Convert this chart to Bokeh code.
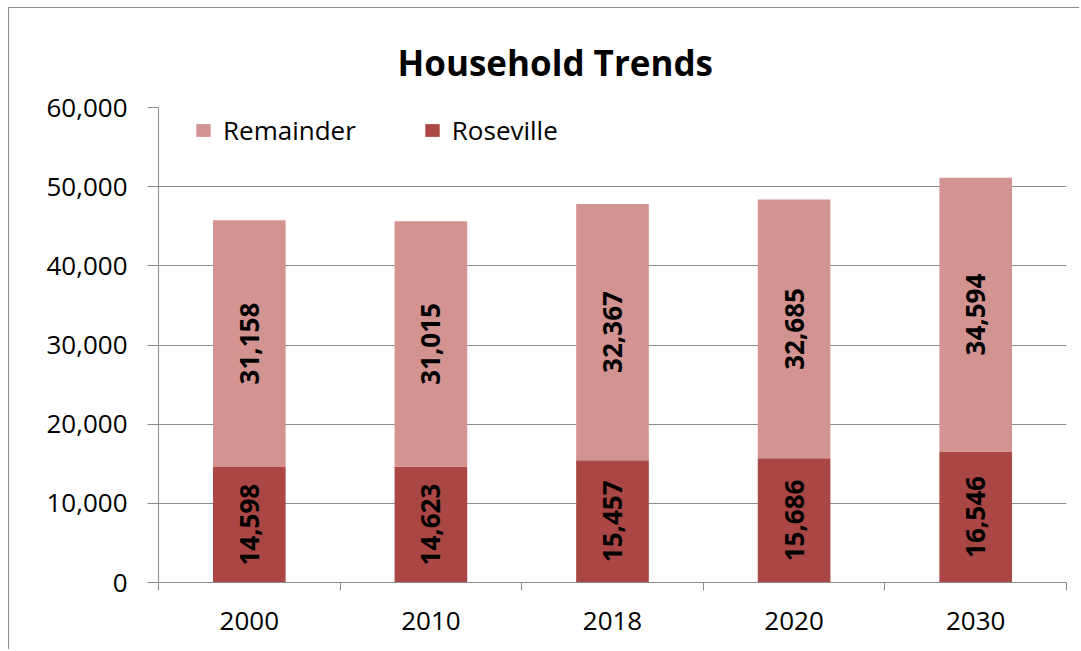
import math
from bokeh.plotting import figure
from bokeh.models import ColumnDataSource, FixedTicker, NumeralTickFormatter, Legend, LegendItem, Range1d
from bokeh.core.properties import value
from bokeh.embed import file_html
from bokeh.resources import INLINE

years = ["2000", "2010", "2018", "2020", "2030"]
roseville = [14598, 14623, 15457, 15686, 16546]
remainder = [31158, 31015, 32367, 32685, 34594]

FONT = "Open Sans"
C_ROSE = "#AA4643"
C_REM = "#D39391"
GRID = "#8c8c8c"

xs = [i + 0.5 for i in range(len(years))]
tops = [a + b for a, b in zip(roseville, remainder)]
src = ColumnDataSource(dict(
    x=xs,
    rose=roseville,
    rem=remainder,
    top=tops,
    rose_mid=[v / 2 for v in roseville],
    rem_mid=[a + b / 2 for a, b in zip(roseville, remainder)],
    rose_lbl=[f"{v:,}" for v in roseville],
    rem_lbl=[f"{v:,}" for v in remainder],
))

p = figure(width=1071, height=642, output_backend="svg", toolbar_location=None,
           x_range=Range1d(0, len(years)), y_range=Range1d(0, 60000),
           min_border_left=149, min_border_right=14, min_border_bottom=68, min_border_top=99,
           styles={"border-left": "1px solid #8c8c8c", "border-top": "1px solid #8c8c8c",
                   "margin-left": "8px", "margin-top": "7px"})
p.outline_line_color = None
p.background_fill_color = "white"
p.border_fill_color = "white"

p.title.text = "Household Trends"
p.title.align = "left"
p.title.offset = 239
p.title.text_font = FONT
p.title.text_font_style = "bold"
p.title.text_font_size = "35px"
p.title.text_color = "black"
p.title.standoff = 43

r_rose = p.vbar(x="x", bottom=0, top="rose", width=0.4, source=src,
                fill_color=C_ROSE, line_color=None)
r_rem = p.vbar(x="x", bottom="rose", top="top", width=0.4, source=src,
               fill_color=C_REM, line_color=None)

for ycol, tcol in (("rose_mid", "rose_lbl"), ("rem_mid", "rem_lbl")):
    p.text(x="x", y=ycol, text=tcol, source=src, angle=math.pi / 2,
           text_align="center", text_baseline="middle",
           text_font=value(FONT), text_font_style="bold", text_font_size="26px",
           text_color="black")

# y axis
p.yaxis.ticker = FixedTicker(ticks=[0, 10000, 20000, 30000, 40000, 50000, 60000])
p.yaxis.formatter = NumeralTickFormatter(format="0,0")
p.yaxis.major_label_text_font = FONT
p.yaxis.major_label_text_font_size = "26px"
p.yaxis.major_label_text_color = "black"
p.yaxis.major_label_standoff = 20
p.yaxis.major_tick_out = 11
p.yaxis.major_tick_in = 0
p.yaxis.minor_tick_line_color = None
p.yaxis.axis_line_color = GRID
p.yaxis.major_tick_line_color = GRID

# x axis
p.xaxis.ticker = FixedTicker(ticks=xs, minor_ticks=list(range(len(years) + 1)))
p.xaxis.major_label_overrides = {x: y for x, y in zip(xs, years)}
p.xaxis.major_label_text_font = FONT
p.xaxis.major_label_text_font_size = "26px"
p.xaxis.major_label_text_color = "black"
p.xaxis.major_label_standoff = 21
p.xaxis.major_tick_out = 0
p.xaxis.major_tick_in = 0
p.xaxis.minor_tick_out = 8
p.xaxis.minor_tick_in = 0
p.xaxis.minor_tick_line_color = GRID
p.xaxis.axis_line_color = GRID

p.xgrid.grid_line_color = None
p.ygrid.grid_line_color = GRID
p.ygrid.grid_line_width = 1

legend = Legend(items=[LegendItem(label="Remainder", renderers=[r_rem]),
                       LegendItem(label="Roseville", renderers=[r_rose])],
                orientation="horizontal", location="top_left",
                margin=0, padding=0, spacing=67, label_standoff=11,
                glyph_width=18, glyph_height=16, label_height=16,
                label_text_font=FONT, label_text_font_size="26px",
                label_text_color="black",
                border_line_color=None, background_fill_alpha=0)
legend.location = (36, 434)
p.add_layout(legend, "center")

open("out.html", "w").write(file_html(p, INLINE))
